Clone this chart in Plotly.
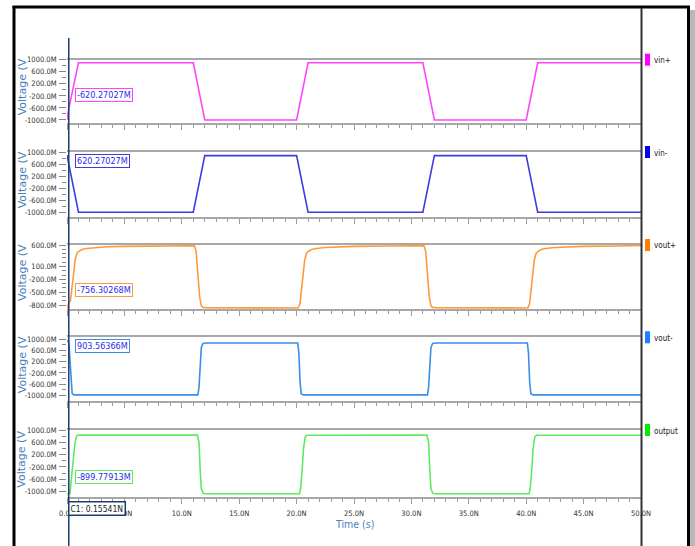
import plotly.graph_objects as go

# ---------------- data (time in ns, voltage in mV) ----------------
time_vin_plus = [0, 0.155, 1.0, 11.0, 12.0, 20.0, 21.0, 31.0, 32.0, 40.0, 41.0, 50.0]
vin_plus = [-1000, -620, 900, 900, -1000, -1000, 900, 900, -1000, -1000, 900, 900]

time_vin_minus = [0, 0.155, 1.0, 11.0, 12.0, 20.0, 21.0, 31.0, 32.0, 40.0, 41.0, 50.0]
vin_minus = [900, 620, -1000, -1000, 880, 880, -1000, -1000, 880, 880, -1000, -1000]

time_vout_plus = [0, 0.155, 0.3, 0.45, 0.55, 0.7, 0.85, 1.0, 1.3, 1.7, 2.5, 3.5, 5.0, 8.0,
                  11.1, 11.25, 11.4, 11.55, 11.7, 11.85, 12.2,
                  20.15, 20.3, 20.45, 20.55, 20.7, 20.85, 21.0, 21.3, 21.7, 22.5, 23.5, 25.0, 28.0,
                  31.1, 31.25, 31.4, 31.55, 31.7, 31.85, 32.2,
                  40.15, 40.3, 40.45, 40.55, 40.7, 40.85, 41.0, 41.3, 41.7, 42.5, 43.5, 45.0, 48.0,
                  50.0]
vout_plus = [-880, -756, -700, -400, -140, 250, 400, 450, 495, 522, 545, 560, 570, 580,
             585, 450, 0, -600, -820, -855, -865,
             -868, -760, -420, -150, 240, 400, 450, 495, 522, 545, 560, 570, 580,
             585, 450, 0, -600, -820, -855, -865,
             -868, -760, -420, -150, 240, 400, 450, 495, 522, 545, 560, 570, 580,
             590]

time_vout_minus = [0, 0.155, 0.3, 0.45, 0.6, 11.4, 11.5, 11.6, 11.7, 11.85, 12.1,
                   20.1, 20.2, 20.3, 20.4, 20.6, 31.4, 31.5, 31.6, 31.7, 31.85, 32.1,
                   40.1, 40.2, 40.3, 40.4, 40.6, 50.0]
vout_minus = [950, 903, 0, -930, -975, -975, -700, 200, 700, 840, 860,
              860, 500, -500, -930, -975, -975, -700, 200, 700, 840, 860,
              860, 500, -500, -930, -975, -975]

time_output = [0, 0.26, 0.4, 0.55, 0.7, 0.85, 1.0, 11.35, 11.5, 11.6, 11.7, 11.85, 12.0,
               20.25, 20.35, 20.5, 20.6, 20.75, 20.9, 31.35, 31.5, 31.6, 31.7, 31.85, 32.0,
               40.25, 40.35, 40.5, 40.6, 40.75, 40.9, 50.0]
output = [-1070, -1060, -500, 130, 600, 810, 835, 835, 600, -300, -900, -1050, -1070,
          -1070, -900, -200, 400, 780, 830, 835, 600, -300, -900, -1050, -1070,
          -1070, -900, -200, 400, 780, 830, 830]

series_names = ["vin+", "vin-", "vout+", "vout-", "output"]
marker_texts = ["-620.27027M", "620.27027M", "-756.30268M", "903.56366M", "-899.77913M"]
cursor_time = 0.15541
cursor_text = "C1: 0.15541N"

x_tick_vals = [0, 5, 10, 15, 20, 25, 30, 35, 40, 45, 50]
x_tick_text = ["0.0N", "5.0N", "10.0N", "15.0N", "20.0N", "25.0N", "30.0N", "35.0N",
               "40.0N", "45.0N", "50.0N"]

y_tick_vals_a = [1000, 600, 200, -200, -600, -1000]
y_tick_text_a = ["1000.0M", "600.0M", "200.0M", "-200.0M", "-600.0M", "-1000.0M"]
y_tick_vals_b = [600, 100, -200, -500, -800]
y_tick_text_b = ["600.0M", "100.0M", "-200.0M", "-500.0M", "-800.0M"]

# ---------------- styling / layout ----------------
W, H = 695, 546
BLUE_TXT = "#4a7ebb"
COND = "DejaVu Sans Condensed, Liberation Sans, sans-serif"


def xp(px):
    return px / W


def yp(py):
    return 1 - py / H


panels = [
    dict(t=time_vin_plus, v=vin_plus, color="#ff44ff", sw="#ff00ff", top=59.7, bot=123,
         rng=[-1100, 1002], tv=y_tick_vals_a, tt=y_tick_text_a, minor=200, box=95),
    dict(t=time_vin_minus, v=vin_minus, color="#3c3ce0", sw="#0000ee", top=152, bot=216.7,
         rng=[-1150, 1002], tv=y_tick_vals_a, tt=y_tick_text_a, minor=200, box=161),
    dict(t=time_vout_plus, v=vout_plus, color="#ff9a3c", sw="#ff7f00", top=245, bot=309,
         rng=[-893, 602], tv=y_tick_vals_b, tt=y_tick_text_b, minor=100, box=290),
    dict(t=time_vout_minus, v=vout_minus, color="#3a8ee6", sw="#1a80ff", top=337.3, bot=401,
         rng=[-1190, 1060], tv=y_tick_vals_a, tt=y_tick_text_a, minor=200, box=346.3),
    dict(t=time_output, v=output, color="#5eea5e", sw="#00ee00", top=430, bot=497.3,
         rng=[-1185, 1002], tv=y_tick_vals_a, tt=y_tick_text_a, minor=200, box=477),
]

fig = go.Figure()
layout = dict(width=W, height=H, margin=dict(l=0, r=0, t=0, b=0, pad=0), autosize=False,
              template="none",
              paper_bgcolor="white", plot_bgcolor="white", showlegend=False)
annotations = []
shapes = []

for i, p in enumerate(panels, start=1):
    sfx = "" if i == 1 else str(i)
    fig.add_trace(go.Scatter(x=p["t"], y=p["v"], mode="lines", name=series_names[i - 1],
                             line=dict(color=p["color"], width=1.6),
                             xaxis="x" + sfx, yaxis="y" + sfx, hoverinfo="skip"))
    layout["xaxis" + sfx] = dict(
        domain=[xp(67), xp(641)], range=[0, 50], anchor="y" + sfx, automargin=False,
        showline=True, linecolor="#a8a8a8", linewidth=2, mirror=True,
        ticks="outside", ticklen=5, tickcolor="#9a9a9a", tickwidth=1,
        tickmode="array", tickvals=x_tick_vals, ticktext=x_tick_text,
        showticklabels=(i == 5), showgrid=False, zeroline=False,
        tickfont=dict(family=COND, size=7.5, color="#333333"),
        ticklabelstandoff=3,
        minor=dict(ticks="outside", ticklen=3, tickmode="linear", tick0=0, dtick=1,
                   tickcolor="#9a9a9a", showgrid=False),
    )
    layout["yaxis" + sfx] = dict(
        domain=[yp(p["bot"]), yp(p["top"])], range=p["rng"], anchor="x" + sfx, automargin=False,
        showline=False, showgrid=False, zeroline=False,
        ticks="outside", ticklen=7, tickcolor="#8a8a8a",
        tickmode="array", tickvals=p["tv"], ticktext=p["tt"],
        tickfont=dict(family=COND, size=7.5, color="#333333"),
        ticklabelstandoff=1,
        minor=dict(ticks="outside", ticklen=4, tickmode="linear", tick0=0, dtick=p["minor"],
                   tickcolor="#8a8a8a", showgrid=False),
    )
    # y title
    annotations.append(dict(xref="paper", yref="paper", x=xp(22), y=yp((p["top"] + p["bot"]) / 2 - 4),
                            xanchor="center", yanchor="middle",
                            text="Voltage (V", textangle=-90, showarrow=False,
                            font=dict(family="DejaVu Sans", size=11, color=BLUE_TXT)))
    # marker value label
    annotations.append(dict(xref="paper", yref="paper", x=xp(75), y=yp(p["box"]),
                            xanchor="left", yanchor="middle", text=marker_texts[i - 1],
                            showarrow=False, bgcolor="white", bordercolor=p["color"],
                            borderwidth=1, borderpad=1,
                            font=dict(family=COND, size=9, color="#2b2bea")))
    # legend swatch and text
    shapes.append(dict(type="rect", xref="paper", yref="paper", x0=xp(645), x1=xp(650),
                       y0=yp(p["top"] - 6), y1=yp(p["top"] + 6), fillcolor=p["sw"],
                       line=dict(width=0)))
    annotations.append(dict(xref="paper", yref="paper", x=xp(652), y=yp(p["top"] + 1),
                            xanchor="left", yanchor="middle", text=series_names[i - 1],
                            showarrow=False,
                            font=dict(family=COND, size=8, color="#222222")))

# cursor line
shapes.append(dict(type="line", xref="x5", yref="paper", x0=cursor_time, x1=cursor_time,
                   y0=0, y1=yp(38), line=dict(color="#1d3c6e", width=1.5), layer="above"))
annotations.append(dict(xref="paper", yref="paper", x=xp(68), y=yp(508.5),
                        xanchor="left", yanchor="middle", text=cursor_text, showarrow=False,
                        bgcolor="white", bordercolor="#1d3c6e", borderwidth=1.5, borderpad=1,
                        font=dict(family=COND, size=8.5, color="#222222")))
# x title
annotations.append(dict(xref="paper", yref="paper", x=xp(354), y=yp(524),
                        xanchor="center", yanchor="middle", text="Time (s)",
                        showarrow=False, font=dict(family=COND, size=10.5, color=BLUE_TXT)))

# frame
shapes += [
    dict(type="line", xref="paper", yref="paper", x0=xp(12.5), x1=xp(690), y0=yp(7), y1=yp(7),
         line=dict(color="black", width=3), layer="above"),
    dict(type="line", xref="paper", yref="paper", x0=xp(14), x1=xp(14), y0=0, y1=yp(6),
         line=dict(color="black", width=3), layer="above"),
    dict(type="rect", xref="paper", yref="paper", x0=xp(690), x1=1, y0=0, y1=yp(10),
         fillcolor="#b8b8b8", line=dict(width=0), layer="above"),
    dict(type="line", xref="paper", yref="paper", x0=xp(688.5), x1=xp(688.5), y0=0, y1=yp(6),
         line=dict(color="black", width=3), layer="above"),
    dict(type="line", xref="paper", yref="paper", x0=xp(641.5), x1=xp(641.5), y0=0, y1=yp(8),
         line=dict(color="#333333", width=2), layer="above"),
]

layout["annotations"] = annotations
layout["shapes"] = shapes
fig.update_layout(**layout)
fig.write_html("out.html", config={"displayModeBar": False},
               post_script="document.body.style.margin='0';document.body.style.padding='0';")
